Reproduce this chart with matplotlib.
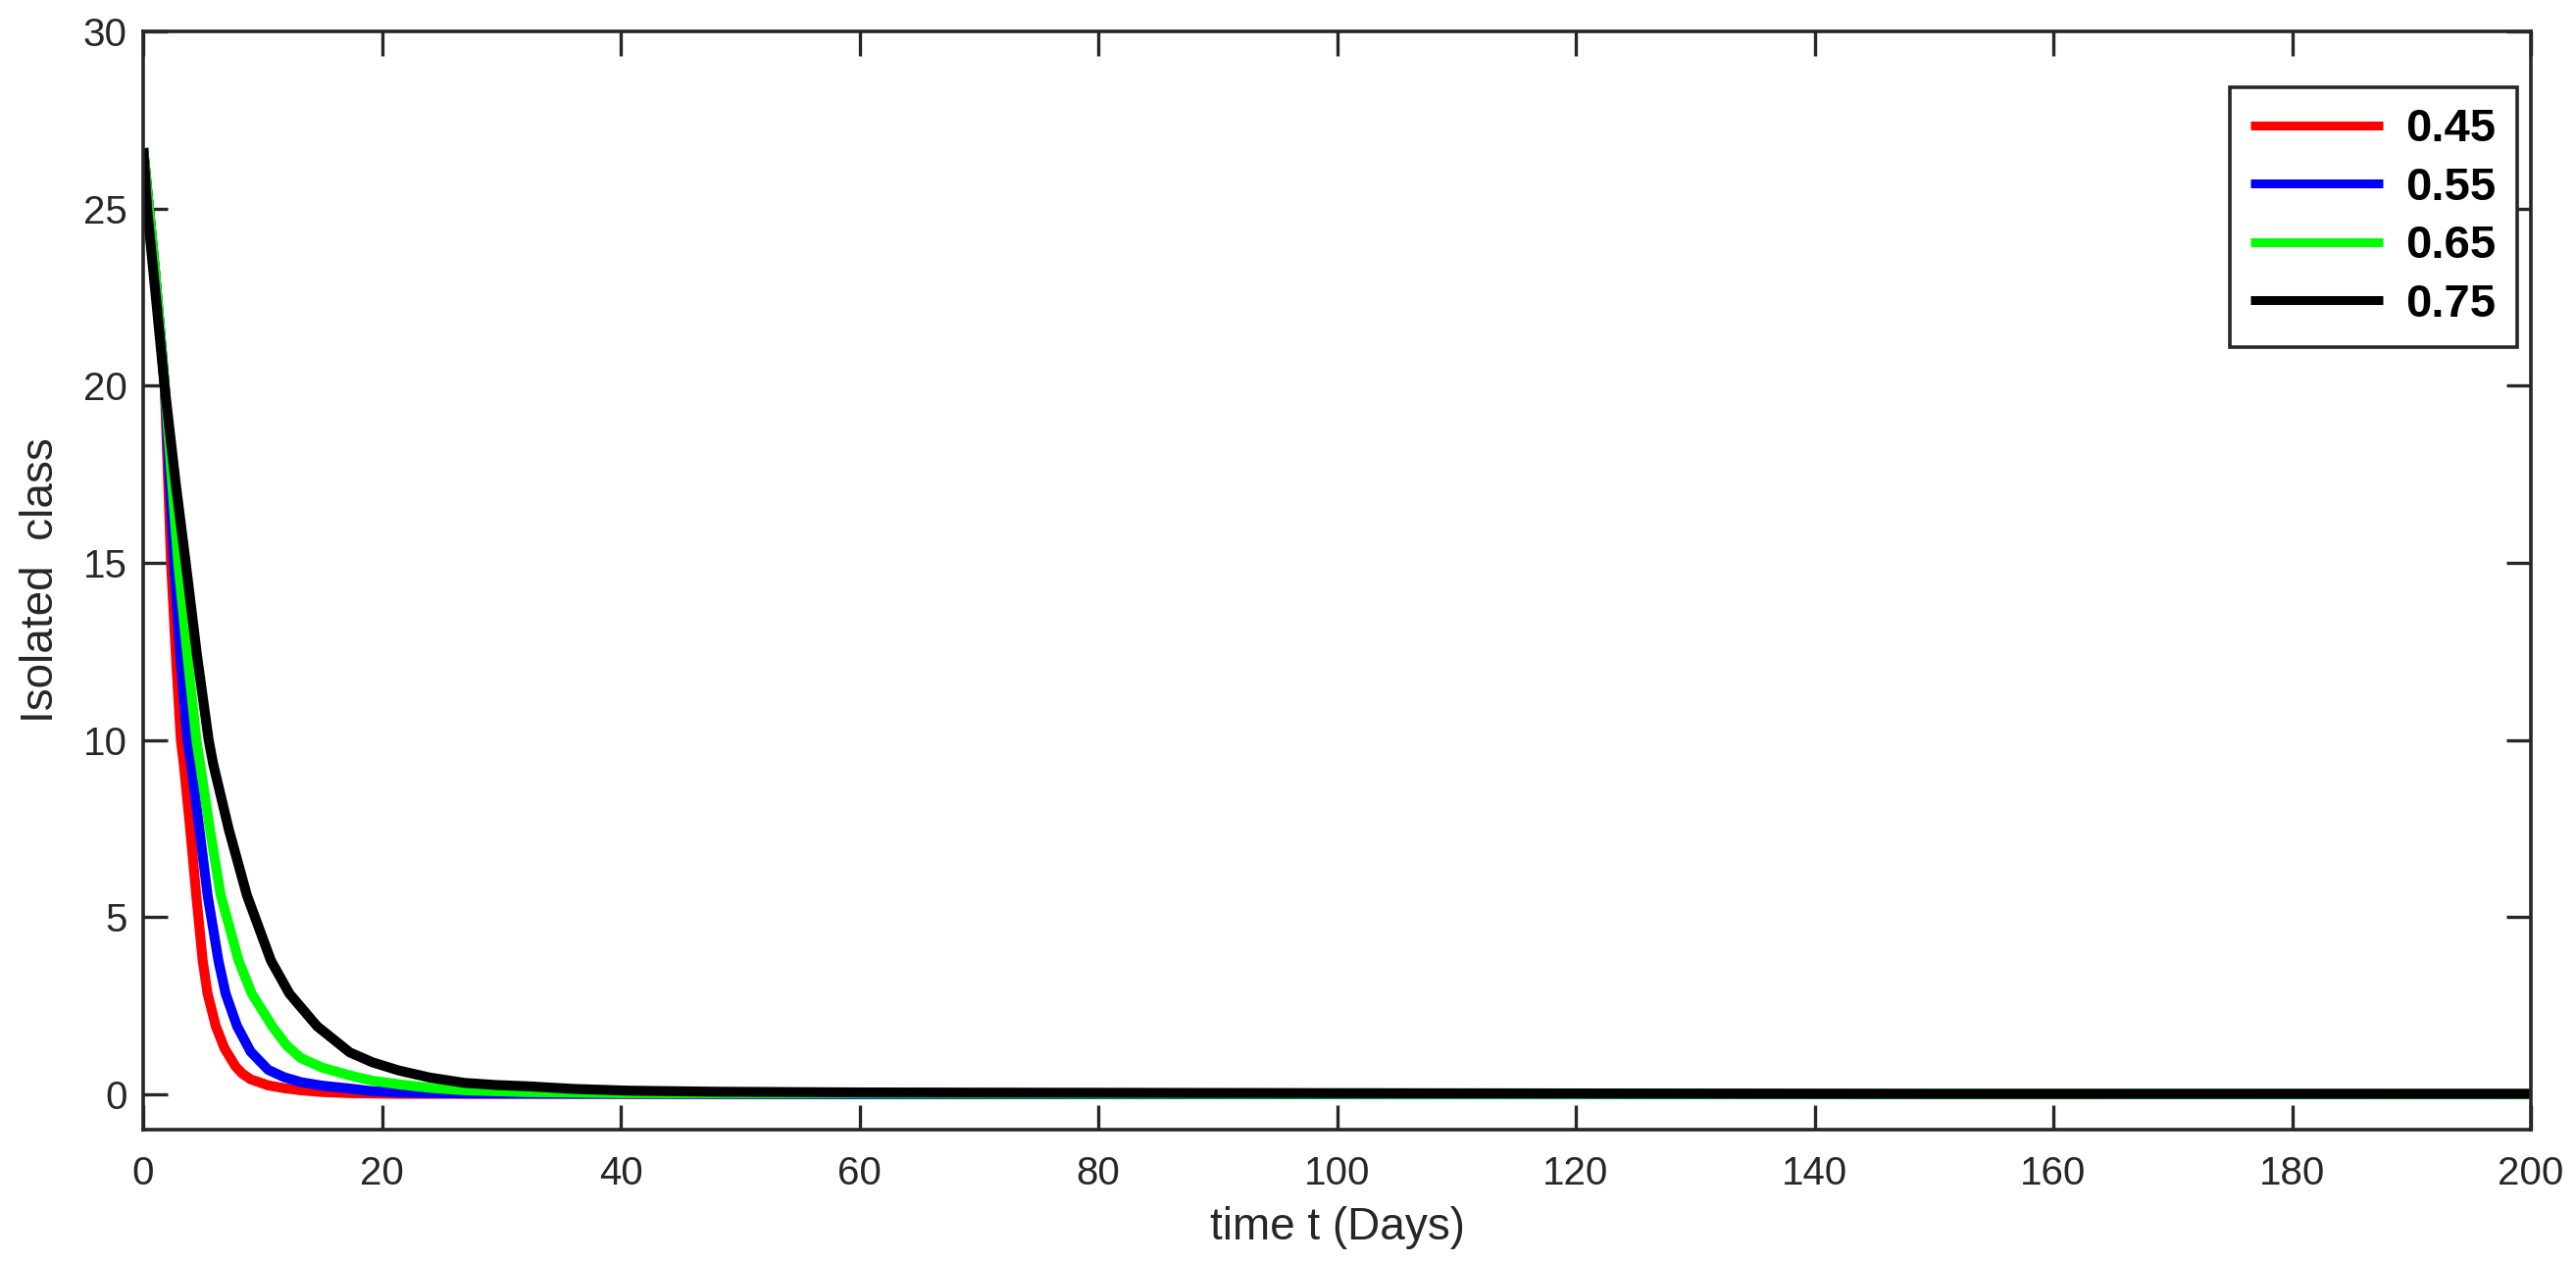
import matplotlib
matplotlib.use('Agg')
import matplotlib.pyplot as plt

# Isolated class over time for four parameter values
labels = ['0.45', '0.55', '0.65', '0.75']
colors = ['#FF0000', '#0000FF', '#00FF00', '#000000']

t_red = [0, 1, 1.8, 2.33, 2.75, 3.15, 3.4, 3.94, 4.44, 4.98, 5.39, 6.08, 6.8, 7.72, 8.3, 9.0,
         10.46, 11.8, 13.2, 15, 17.3, 21.4, 200]
y_red = [26.7, 23.2, 20.0, 15.0, 12.3, 10.0, 9.3, 7.47, 5.62, 3.77, 2.84, 1.92, 1.3, 0.79, 0.58, 0.42,
         0.25, 0.17, 0.11, 0.06, 0.03, 0.01, 0.0]

t_blue = [0, 1, 1.8, 2.58, 3.1, 3.7, 4.02, 4.71, 5.39, 6.3, 6.9, 7.86, 9.0, 10.46, 11.8, 13.2,
          15, 17.3, 19, 21.4, 27, 60, 200]
y_blue = [26.7, 23.2, 20.0, 15.0, 12.4, 10.0, 9.32, 7.47, 5.62, 3.77, 2.84, 1.92, 1.2, 0.69, 0.48,
          0.34, 0.24, 0.16, 0.09, 0.05, 0.02, 0.0, 0.0]

t_green = [0, 1, 1.8, 2.93, 3.7, 4.45, 4.76, 5.59, 6.49, 7.99, 9.09, 10.8, 12.0, 13.2, 15, 17.3,
           19.2, 21.4, 24, 26.9, 32, 40, 90, 200]
y_green = [26.7, 23.2, 20.0, 15.0, 12.4, 10.0, 9.32, 7.47, 5.62, 3.77, 2.84, 1.92, 1.38, 1.02, 0.75,
           0.53, 0.38, 0.28, 0.18, 0.11, 0.06, 0.03, 0.01, 0.0]

t_black = [0, 0.33, 1, 1.78, 2.7, 3.56, 4.5, 5.48, 5.86, 7.17, 8.68, 10.7, 12.24, 14.56, 17.3,
           19.2, 21.4, 24, 26.9, 29.5, 32.4, 36, 40.6, 48, 60, 100, 150, 200]
y_black = [26.7, 25.0, 22.7, 20.0, 17.3, 15.0, 12.4, 10.0, 9.32, 7.47, 5.62, 3.77, 2.84, 1.92, 1.18,
           0.9, 0.67, 0.47, 0.32, 0.26, 0.22, 0.15, 0.1, 0.07, 0.05, 0.03, 0.01, 0.01]

series_t = [t_red, t_blue, t_green, t_black]
series_y = [y_red, y_blue, y_green, y_black]

x_ticks = list(range(0, 201, 20))
y_ticks = list(range(0, 31, 5))

plt.rcParams['font.family'] = ['Liberation Sans', 'DejaVu Sans']

fig = plt.figure(figsize=(26.27, 12.88), dpi=100)
ax = fig.add_axes([0.0556, 0.1056, 0.9269, 0.8696])

for t, y, c, lab in zip(series_t, series_y, colors, labels):
    ax.plot(t, y, color=c, linewidth=7.3, label=lab,
            solid_joinstyle='round', solid_capstyle='butt')

ax.set_xlim(0, 200)
ax.set_ylim(-1, 30)
ax.set_xticks(x_ticks)
ax.set_yticks(y_ticks)

edge = '#262626'
for sp in ax.spines.values():
    sp.set_linewidth(2.6)
    sp.set_color(edge)
ax.tick_params(direction='in', length=18, width=2.4, color=edge,
               top=True, right=True, labelsize=29, labelcolor=edge)
ax.tick_params(axis='x', pad=19)
ax.tick_params(axis='y', pad=12)

ax.set_xlabel('time t (Days)', fontsize=33, color=edge, labelpad=10)
ax.set_ylabel('Isolated  class', fontsize=33, color=edge, labelpad=15)

leg = ax.legend(loc='upper right', bbox_to_anchor=(0.9772, 0.9309),
                bbox_transform=fig.transFigure, borderaxespad=0,
                prop={'weight': 'bold', 'size': 34}, handlelength=2.86,
                handletextpad=0.5, labelspacing=0.33, borderpad=0.45,
                fancybox=False, framealpha=1)
leg.get_frame().set_edgecolor(edge)
leg.get_frame().set_linewidth(2.6)
for line in leg.get_lines():
    line.set_linewidth(6.5)

fig.savefig('out.png', dpi=100)
